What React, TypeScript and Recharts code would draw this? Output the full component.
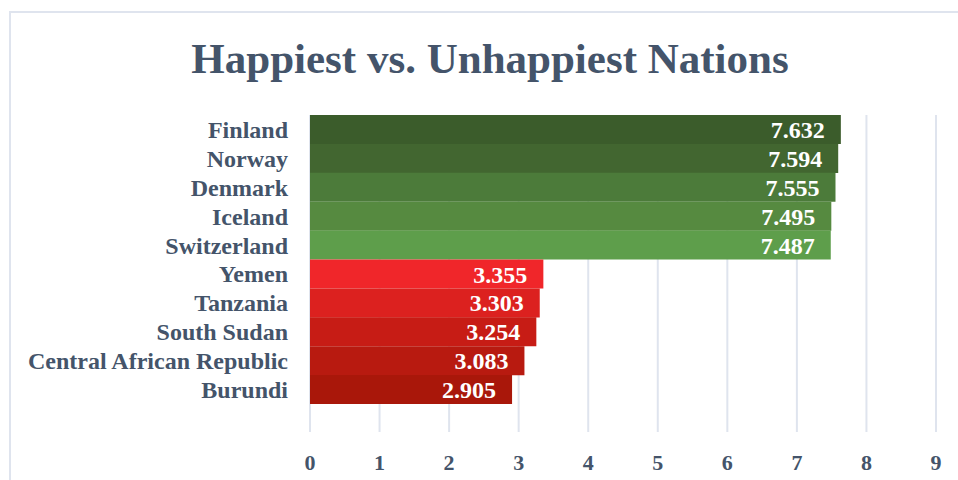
import React from "react";
import { BarChart, Bar, XAxis, YAxis, CartesianGrid, Cell, LabelList } from "recharts";

const countries = [
  "Finland",
  "Norway",
  "Denmark",
  "Iceland",
  "Switzerland",
  "Yemen",
  "Tanzania",
  "South Sudan",
  "Central African Republic",
  "Burundi",
];
const scores = [7.632, 7.594, 7.555, 7.495, 7.487, 3.355, 3.303, 3.254, 3.083, 2.905];
const barColors = [
  "#3b5c2b",
  "#426630",
  "#4c7b3a",
  "#568a40",
  "#5e9e4b",
  "#f0262a",
  "#dc211f",
  "#c71c15",
  "#b81a10",
  "#a9170a",
];
const xTicks = [0, 1, 2, 3, 4, 5, 6, 7, 8, 9];
const title = "Happiest vs. Unhappiest Nations";

const data = countries.map((c, i) => ({ name: c, value: scores[i] }));

const FONT = "'Liberation Serif', 'Times New Roman', serif";
const TEXT = "#44546a";

export default function App() {
  return (
    <div style={{ position: "absolute", left: 0, top: 0, width: 958, height: 480, overflow: "hidden", background: "#fff" }}>
      <div
        style={{
          position: "absolute",
          left: 9,
          top: 11,
          width: 1000,
          height: 520,
          border: "2px solid #dfe4ee",
          boxSizing: "border-box",
        }}
      />
      <div
        style={{
          position: "absolute",
          left: 0,
          width: 980,
          top: 34,
          textAlign: "center",
          fontFamily: FONT,
          fontWeight: "bold",
          fontSize: 43,
          color: TEXT,
          lineHeight: "50px",
        }}
      >
        {title}
      </div>
      <div style={{ position: "absolute", left: 0, top: 0 }}>
        <BarChart
          width={958}
          height={480}
          data={data}
          layout="vertical"
          margin={{ top: 115, right: 22, bottom: 0, left: 0 }}
          barCategoryGap={0}
        >
          <CartesianGrid vertical={true} horizontal={false} stroke="#dfe4ee" strokeWidth={2} />
          <XAxis
            type="number"
            domain={[0, 9]}
            ticks={xTicks}
            interval={0}
            axisLine={false}
            tickLine={false}
            height={48}
            tickMargin={16}
            tick={{ fill: TEXT, fontFamily: FONT, fontWeight: "bold", fontSize: 22 }}
          />
          <YAxis
            type="category"
            dataKey="name"
            width={310}
            axisLine={false}
            tickLine={false}
            tickMargin={16}
            interval={0}
            padding={{ top: 0, bottom: 28 }}
            tick={{ fill: TEXT, fontFamily: FONT, fontWeight: "bold", fontSize: 24 }}
          />
          <Bar dataKey="value" isAnimationActive={false}>
            {data.map((d, i) => (
              <Cell key={d.name} fill={barColors[i]} />
            ))}
            <LabelList
              dataKey="value"
              position="insideRight"
              offset={16}
              fill="#ffffff"
              style={{ fontFamily: FONT, fontWeight: "bold", fontSize: 24 }}
              formatter={(v: number) => v.toFixed(3)}
            />
          </Bar>
        </BarChart>
      </div>
    </div>
  );
}
